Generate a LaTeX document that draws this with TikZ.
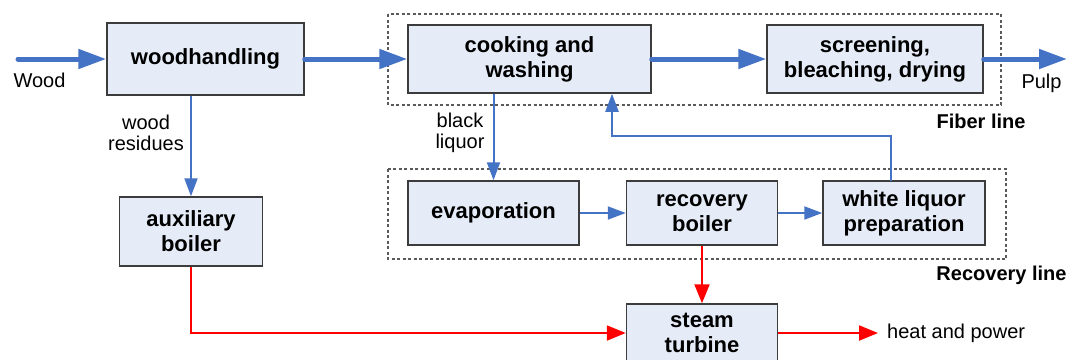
\documentclass[tikz,border=0pt]{standalone}
\usepackage{fontspec}
\setmainfont{Liberation Sans}
\usetikzlibrary{arrows.meta}

\definecolor{flowblue}{HTML}{4472C4}
\definecolor{boxfill}{HTML}{E5ECF7}
\definecolor{boxline}{HTML}{3C3C3C}
\definecolor{groupline}{HTML}{5A5A5A}
\definecolor{heatred}{HTML}{FF0000}

\tikzset{
  stage/.style={draw=boxline, line width=1.5pt, fill=boxfill, align=center,
    inner sep=0pt, font=\fontsize{22pt}{25pt}\selectfont\bfseries},
  label/.style={align=center, inner sep=0pt, font=\fontsize{20pt}{21pt}\selectfont},
  grouplabel/.style={inner sep=0pt, font=\fontsize{20pt}{21pt}\selectfont\bfseries},
  group/.style={draw=groupline, line width=1.2pt, dash pattern=on 3pt off 2.5pt},
  mainflow/.style={draw=flowblue, line width=5pt, line cap=round,
    -{Triangle[length=28pt, width=19pt]}},
  sideflow/.style={draw=flowblue, line width=2pt,
    -{Triangle[length=18pt, width=13pt]}},
  energy/.style={draw=heatred, line width=2.2pt,
    -{Triangle[length=19pt, width=15pt]}}
}

\begin{document}
\begin{tikzpicture}[x=1pt, y=-1pt]
  \useasboundingbox (0,0) rectangle (1070,359);

  % process groups
  \draw[group] (388,14) rectangle (1001,105);
  \draw[group] (388,169) rectangle (1006,259);
  \node[grouplabel] (fiberlbl) at (981,121) {Fiber line};
  \node[grouplabel] (recoverylbl) at (1001.5,275) {Recovery line};

  % process stages
  \node[stage, minimum width=197pt, minimum height=72pt] (wh) at (205.5,59) {woodhandling};
  \node[stage, minimum width=243pt, minimum height=68pt] (cook) at (529.5,59) {cooking and\\washing};
  \node[stage, minimum width=216pt, minimum height=68pt] (screen) at (875,59) {screening,\\bleaching, drying};
  \node[stage, minimum width=143pt, minimum height=69pt] (aux) at (191,231.5) {auxiliary\\boiler};
  \node[stage, minimum width=171pt, minimum height=64pt] (evap) at (493.5,213) {evaporation};
  \node[stage, minimum width=151pt, minimum height=64pt] (rec) at (702,213) {recovery\\boiler};
  \node[stage, minimum width=162pt, minimum height=64pt] (wl) at (904,213) {white liquor\\preparation};
  \node[stage, minimum width=151pt, minimum height=58pt] (steam) at (702,333) {steam\\turbine};

  % inputs and outputs
  \coordinate (woodin) at (18,59);
  \coordinate (pulpout) at (1067,59);
  \node[label] (woodlbl) at (39.5,80) {Wood};
  \node[label] (pulplbl) at (1041.5,83) {Pulp};
  \node[label, anchor=west] (hp) at (887,333) {heat and power};
  \coordinate (hpin) at (878,333);

  % main fiber flow
  \draw[mainflow] (woodin) -- (wh.west);
  \draw[mainflow] (wh.east) -- (cook.west);
  \draw[mainflow] (cook.east) -- (screen.west);
  \draw[mainflow] (screen.east) -- (pulpout);

  % side streams
  \draw[sideflow] (aux.north |- wh.south) -- (aux.north);
  \node[label] (residues) at (146,132.5) {wood\\residues};
  \draw[sideflow] (evap.north |- cook.south) -- (evap.north);
  \node[label] (blackliq) at (460,132.5) {black\\liquor};
  \draw[sideflow] (evap.east) -- (rec.west);
  \draw[sideflow] (rec.east) -- (wl.west);

  % white liquor returned to cooking
  \coordinate (wlout) at (891,181);
  \coordinate (wlturn) at (612,136);
  \draw[sideflow] (wlout) |- (wlturn) -- (wlturn |- cook.south);

  % steam and power
  \draw[energy] (aux.south) |- (steam.west);
  \draw[energy] (rec.south) -- (steam.north);
  \draw[energy] (steam.east) -- (hpin);
\end{tikzpicture}
\end{document}
